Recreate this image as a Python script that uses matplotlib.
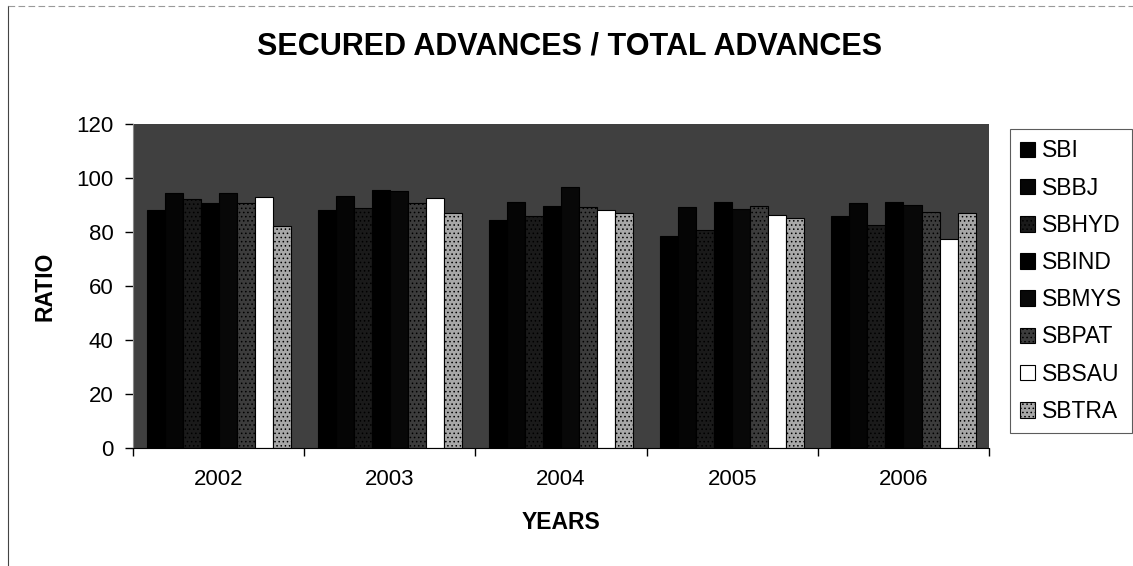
import matplotlib.pyplot as plt
import numpy as np
from matplotlib.lines import Line2D

plt.rcParams['font.family'] = ['Liberation Sans', 'DejaVu Sans']
plt.rcParams['hatch.linewidth'] = 0.6

years = ['2002', '2003', '2004', '2005', '2006']
banks = ['SBI', 'SBBJ', 'SBHYD', 'SBIND', 'SBMYS', 'SBPAT', 'SBSAU', 'SBTRA']

sbi = [88.1, 88.0, 84.5, 78.5, 86.0]
sbbj = [94.4, 93.3, 91.2, 89.4, 90.6]
sbhyd = [92.2, 89.0, 86.0, 80.7, 82.6]
sbind = [90.7, 95.5, 89.5, 91.0, 91.2]
sbmys = [94.4, 95.0, 96.5, 88.5, 90.0]
sbpat = [90.7, 90.9, 89.4, 89.6, 87.5]
sbsau = [93.1, 92.5, 88.1, 86.3, 77.4]
sbtra = [82.2, 87.1, 86.9, 85.0, 87.0]

series = [sbi, sbbj, sbhyd, sbind, sbmys, sbpat, sbsau, sbtra]

# fill, hatch per bank
styles = [
    ('#000000', None),
    ('#050505', None),
    ('#1a1a1a', '....'),
    ('#000000', None),
    ('#080808', None),
    ('#3c3c3c', '....'),
    ('#ffffff', None),
    ('#a8a8a8', '....'),
]

fig = plt.figure(figsize=(11.33, 5.66), dpi=100)
fig.patch.set_facecolor('white')
# chart-area border (left and top edges)
fig.add_artist(Line2D([0.007, 0.007], [0.0, 0.99], transform=fig.transFigure,
                      color='#444444', linewidth=0.8))
fig.add_artist(Line2D([0.007, 1.0], [0.99, 0.99], transform=fig.transFigure,
                      color='#999999', linewidth=0.8, linestyle=(0, (6, 3))))

ax = fig.add_axes([0.1174, 0.2085, 0.7556, 0.5725])
ax.set_facecolor('#404040')

x = np.arange(len(years))
w = 1 / 9.5
for j, (name, vals) in enumerate(zip(banks, series)):
    fc, hatch = styles[j]
    ax.bar(x + (j - 3.5) * w, vals, width=w, color=fc, edgecolor='black',
           linewidth=0.8, hatch=hatch, label=name)

ax.set_xlim(-0.5, len(years) - 0.5)
ax.set_ylim(0, 120)
ax.set_yticks(range(0, 121, 20))
ax.set_xticks(x)
ax.set_xticklabels(years)
ax.set_xticks(np.arange(-0.5, len(years), 1), minor=True)
ax.tick_params(axis='x', which='major', length=0, pad=15, labelsize=16)
ax.tick_params(axis='x', which='minor', length=6, width=1, direction='out')
ax.tick_params(axis='y', length=6, width=1, direction='out', labelsize=16, pad=8)
for s in ['top', 'right']:
    ax.spines[s].set_visible(False)
ax.spines['left'].set_color('#888888')
ax.spines['bottom'].set_color('black')

ax.set_xlabel('YEARS', fontsize=16.5, fontweight='bold', labelpad=15)
ax.set_ylabel('RATIO', fontsize=16.5, fontweight='bold', labelpad=14)
fig.text(0.503, 0.918, 'SECURED ADVANCES / TOTAL ADVANCES', ha='center',
         va='center', fontsize=22, fontweight='bold')

leg = fig.legend(loc='upper left', bbox_to_anchor=(0.891, 0.772), fontsize=16.5,
                 frameon=True, fancybox=False, edgecolor='#333333',
                 handlelength=0.67, handleheight=0.67, handletextpad=0.3,
                 labelspacing=0.62, borderpad=0.45, borderaxespad=0)
leg.get_frame().set_linewidth(0.8)

fig.savefig('out.png', dpi=100)
